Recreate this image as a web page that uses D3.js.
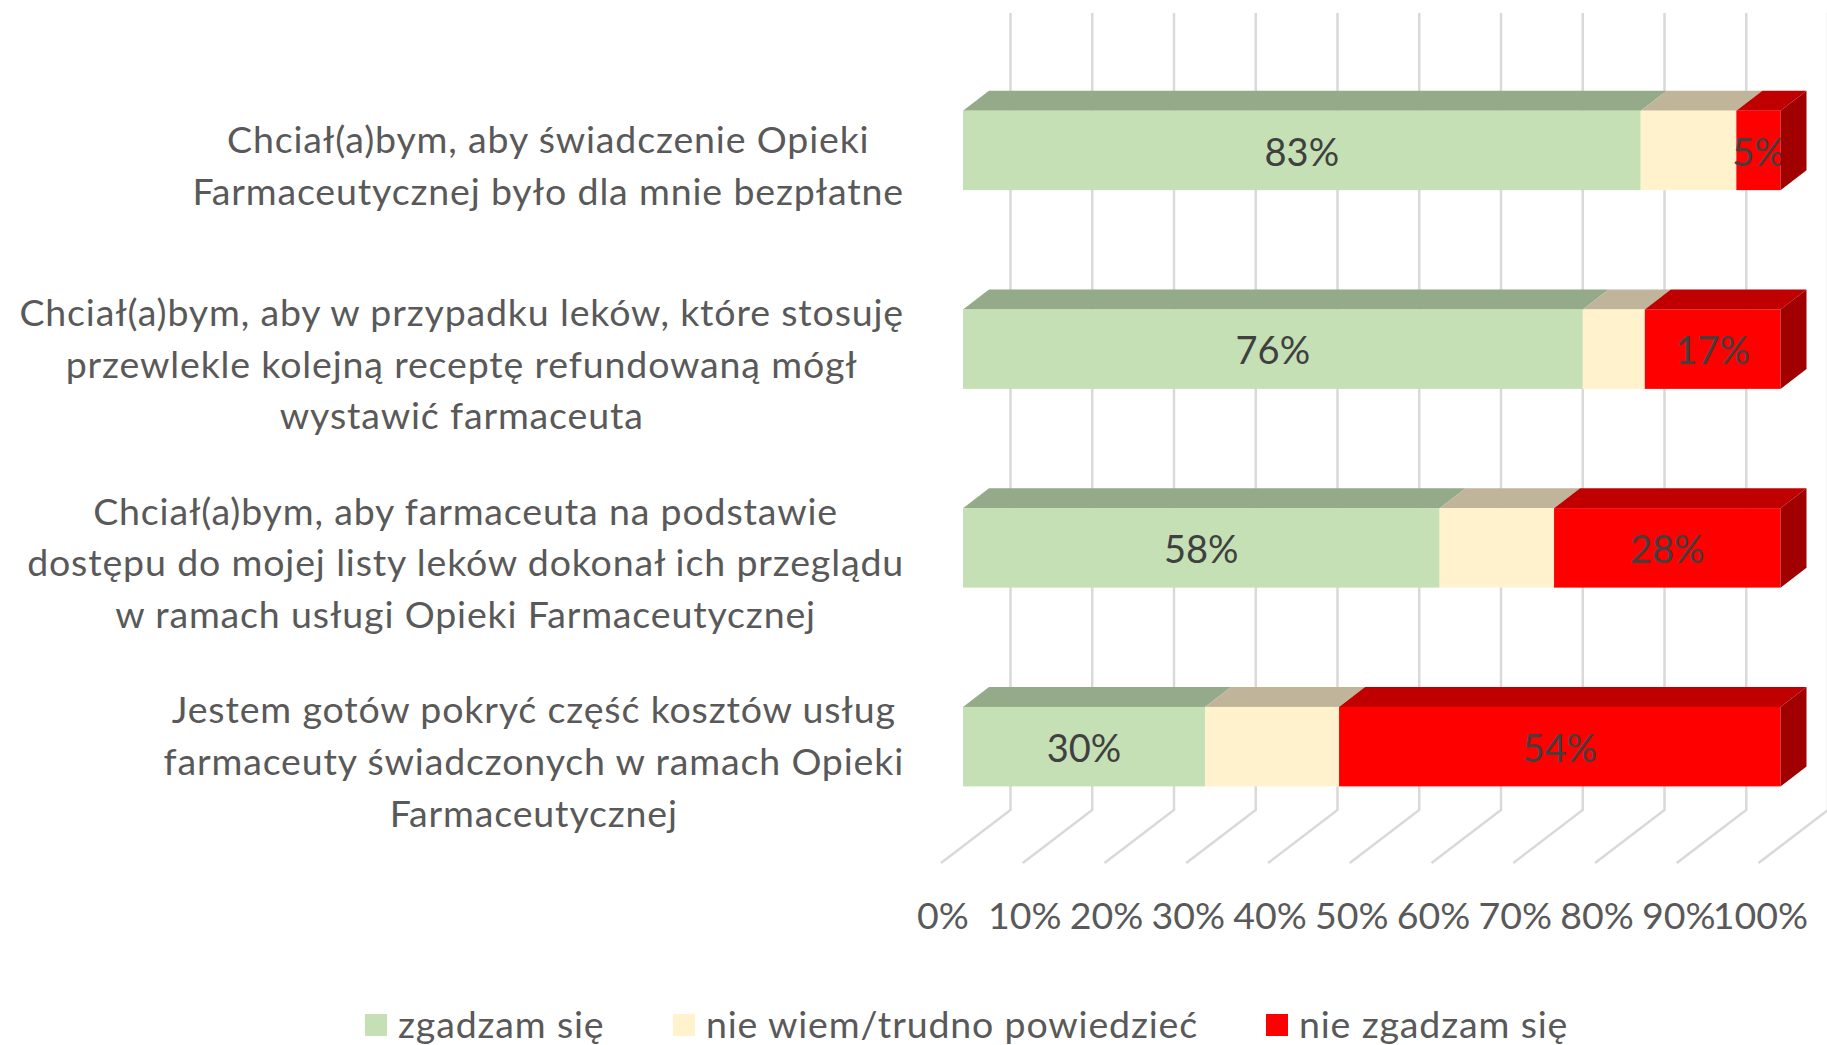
<!DOCTYPE html>
<html>
<head>
<meta charset="utf-8">
<script src="https://cdn.jsdelivr.net/npm/d3@7"></script>
<style>
  body { margin: 0; background: #fff; }
  text { font-family: Lato, "Open Sans", sans-serif; }
</style>
</head>
<body>
<div id="chart"></div>
<script>
var categories = [
    ["Chciał(a)bym, aby świadczenie Opieki", "Farmaceutycznej było dla mnie bezpłatne"],
    ["Chciał(a)bym, aby w przypadku leków, które stosuję", "przewlekle kolejną receptę refundowaną mógł", "wystawić farmaceuta"],
    ["Chciał(a)bym, aby farmaceuta na podstawie", "dostępu do mojej listy leków dokonał ich przeglądu", "w ramach usługi Opieki Farmaceutycznej"],
    ["Jestem gotów pokryć część kosztów usług", "farmaceuty świadczonych w ramach Opieki", "Farmaceutycznej"]
];
var seriesNames = ["zgadzam się", "nie wiem/trudno powiedzieć", "nie zgadzam się"];
var agree = [82.9, 75.8, 58.3, 29.6];
var unsure = [11.7, 7.6, 14.0, 16.4];
var disagree = [5.4, 16.6, 27.7, 54.0];
var tickValues = [0, 10, 20, 30, 40, 50, 60, 70, 80, 90, 100];

var frontColors = ["#c5e0b4", "#fff2cc", "#ff0000"];
var topColors = ["#95aa88", "#c0b59a", "#c00000"];
var sideColor = "#a00000";

var width = 1827, height = 1045;
var barOffset = 22;      // front of bars vs floor front edge
var barDepth = {x: 26, y: 20};
var wallOffset = {x: 69.5, y: 53};

var x = d3.scaleLinear().domain([0, 100]).range([941, 1758.5]);
var y = d3.scaleBand()
    .domain(d3.range(categories.length))
    .range([51, 846])
    .paddingInner(0.6)
    .paddingOuter(0.3);

var svg = d3.select("#chart").append("svg")
    .attr("width", width)
    .attr("height", height)
    .style("display", "block");

// back wall + floor grid lines
var grid = svg.append("g").attr("class", "grid");
grid.selectAll("path")
    .data(tickValues)
    .enter().append("path")
    .attr("fill", "none")
    .attr("stroke", "#d9d9d9")
    .attr("stroke-width", 2.5)
    .attr("d", function(d) {
        var x0 = x(d), x1 = x0 + wallOffset.x;
        return "M" + x1 + ",13V" + 810 + "L" + x0 + "," + (810 + wallOffset.y);
    });

// stacked rows
var rows = categories.map(function(c, i) {
    var vals = [agree[i], unsure[i], disagree[i]], sum = 0;
    return vals.map(function(v, s) {
        var seg = {row: i, s: s, v: v, from: sum, to: sum + v};
        sum += v;
        return seg;
    });
});

function bx(v) { return x(v) + barOffset; }

var row = svg.selectAll(".row")
    .data(rows)
    .enter().append("g")
    .attr("class", "row");

var seg = row.selectAll(".seg")
    .data(function(d) { return d; })
    .enter().append("g")
    .attr("class", "seg");

seg.append("path")
    .attr("fill", function(d) { return topColors[d.s]; })
    .attr("d", function(d) {
        var t = y(d.row);
        return "M" + bx(d.from) + "," + t + "L" + (bx(d.from) + barDepth.x) + "," + (t - barDepth.y) +
            "H" + (bx(d.to) + barDepth.x) + "L" + bx(d.to) + "," + t + "Z";
    });

seg.append("rect")
    .attr("x", function(d) { return bx(d.from); })
    .attr("y", function(d) { return y(d.row); })
    .attr("width", function(d) { return bx(d.to) - bx(d.from); })
    .attr("height", y.bandwidth())
    .attr("fill", function(d) { return frontColors[d.s]; });

// right side of the last segment
row.append("path")
    .attr("fill", sideColor)
    .attr("d", function(d) {
        var last = d[d.length - 1], t = y(last.row), r = bx(last.to);
        return "M" + r + "," + t + "L" + (r + barDepth.x) + "," + (t - barDepth.y) +
            "V" + (t + y.bandwidth() - barDepth.y) + "L" + r + "," + (t + y.bandwidth()) + "Z";
    });

// data labels, the middle series has none
seg.filter(function(d) { return d.s !== 1; })
    .append("text")
    .attr("x", function(d) { return (bx(d.from) + bx(d.to)) / 2; })
    .attr("y", function(d) { return y(d.row) + y.bandwidth() / 2 + 2; })
    .attr("dy", "0.35em")
    .attr("text-anchor", "middle")
    .attr("fill", "#404040")
    .style("font-size", "38px")
    .text(function(d) { return Math.round(d.v) + "%"; });

// category labels: lines centred on each other, block right aligned
var labelRight = 904, lineHeight = 51.7;
var labels = svg.selectAll(".cat")
    .data(categories)
    .enter().append("text")
    .attr("class", "cat")
    .attr("text-anchor", "middle")
    .attr("fill", "#595959")
    .style("font-size", "37.5px")
    .style("letter-spacing", "0.85px");

labels.selectAll("tspan")
    .data(function(d, i) {
        return d.map(function(t, k) { return {t: t, k: k, n: d.length, i: i}; });
    })
    .enter().append("tspan")
    .attr("y", function(d) {
        var mid = y(d.i) + y.bandwidth() / 2 + 16;
        return mid + (d.k - (d.n - 1) / 2) * lineHeight + 12.5;
    })
    .text(function(d) { return d.t; });

labels.each(function() {
    var tspans = d3.select(this).selectAll("tspan");
    var maxW = d3.max(tspans.nodes(), function(n) { return n.getComputedTextLength(); });
    tspans.attr("x", labelRight - maxW / 2);
});

// x axis labels along the floor front edge
var axis = svg.append("g")
    .attr("transform", "translate(1.5,902)")
    .call(d3.axisBottom(x).tickValues(tickValues).tickSize(0).tickFormat(function(d) { return d + "%"; }));
axis.select(".domain").remove();
axis.selectAll(".tick text")
    .attr("y", 0)
    .attr("dy", "0.71em")
    .attr("fill", "#595959")
    .style("font-size", "37.5px")
    .style("font-family", "Lato, 'Open Sans', sans-serif");

// legend
var legendX = [365, 673, 1266];
var legend = svg.selectAll(".legend")
    .data(seriesNames)
    .enter().append("g")
    .attr("class", "legend")
    .attr("transform", function(d, i) { return "translate(" + legendX[i] + ",1025)"; });

legend.append("rect")
    .attr("x", 0)
    .attr("y", -11)
    .attr("width", 22)
    .attr("height", 22)
    .attr("fill", function(d, i) { return frontColors[i]; });

legend.append("text")
    .attr("x", 33)
    .attr("dy", "0.35em")
    .attr("fill", "#595959")
    .style("font-size", "37.5px")
    .style("letter-spacing", "0.85px")
    .text(function(d) { return d; });
</script>
</body>
</html>
